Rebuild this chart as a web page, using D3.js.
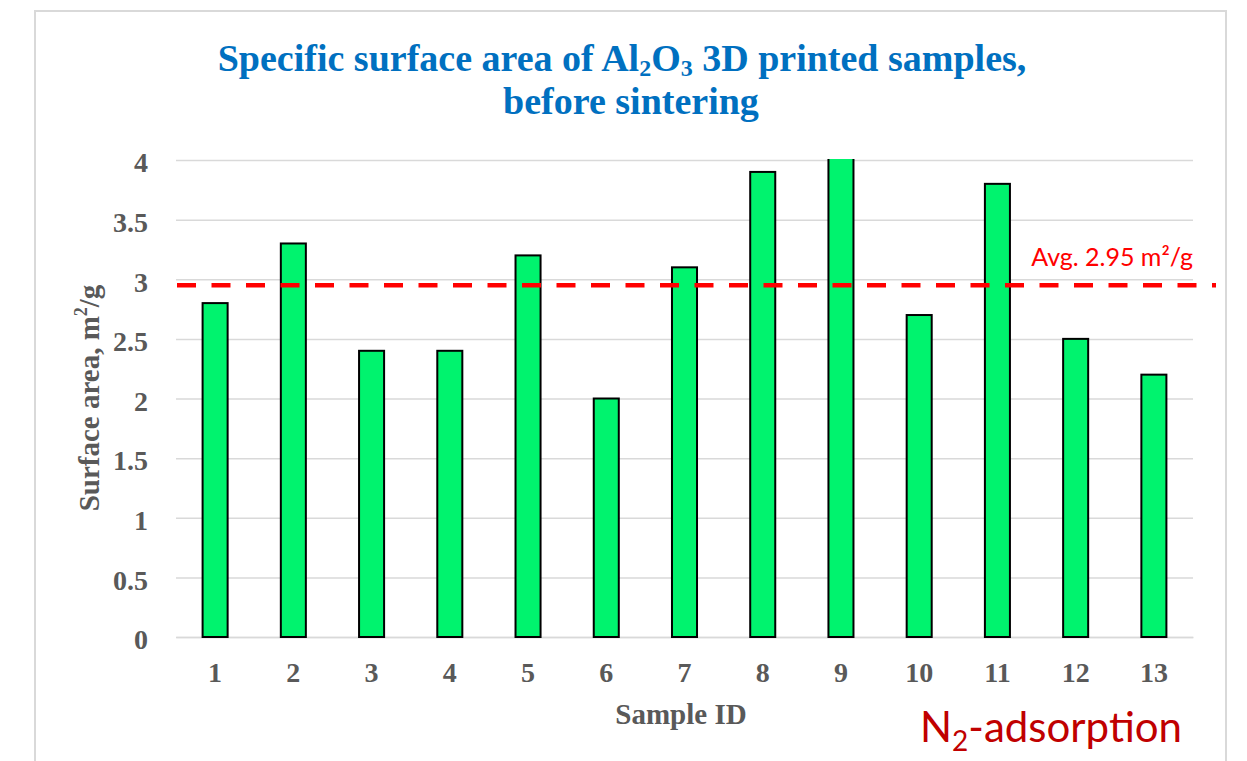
<!DOCTYPE html>
<html>
<head>
<meta charset="utf-8">
<script src="https://cdn.jsdelivr.net/npm/d3@7"></script>
<style>
  html, body { margin: 0; padding: 0; background: #fff; }
  svg { display: block; }
</style>
</head>
<body>
<svg id="chart" width="1247" height="761"></svg>
<script>
// Sample IDs and measured BET surface area (m²/g), before sintering
const samples = ["1", "2", "3", "4", "5", "6", "7", "8", "9", "10", "11", "12", "13"];
const surfaceArea = [2.8, 3.3, 2.4, 2.4, 3.2, 2.0, 3.1, 3.9, 4.05, 2.7, 3.8, 2.5, 2.2];
const averageArea = 2.95;
const yTicks = [0, 0.5, 1, 1.5, 2, 2.5, 3, 3.5, 4];

const plot = { left: 176, right: 1193, top: 160, bottom: 637 };

const svg = d3.select("#chart");
const serif = "'Liberation Serif', 'Times New Roman', serif";
const sans = "Lato, 'Noto Sans', sans-serif";
const grey = "#595959";

// chart frame
svg.append("rect")
  .attr("x", 35).attr("y", 11)
  .attr("width", 1191).attr("height", 780)
  .attr("fill", "#fff").attr("stroke", "#d9d9d9").attr("stroke-width", 2);

const x = d3.scaleBand()
  .domain(samples)
  .range([plot.left, plot.right])
  .paddingInner(0.68)
  .paddingOuter(0.34);

const y = d3.scaleLinear()
  .domain([0, 4])
  .range([plot.bottom, plot.top]);

// horizontal gridlines and value labels
const yAxis = d3.axisLeft(y)
  .tickValues(yTicks)
  .tickSize(-(plot.right - plot.left))
  .tickPadding(28)
  .tickFormat(d => d3.format("")(d));

const gy = svg.append("g")
  .attr("transform", `translate(${plot.left},0)`)
  .call(yAxis);
gy.select(".domain").remove();
gy.selectAll(".tick line").attr("stroke", "#d9d9d9").attr("stroke-width", 1.5);
gy.selectAll(".tick text")
  .attr("font-family", serif).attr("font-weight", "bold")
  .attr("font-size", 28).attr("fill", grey).attr("dy", "0.42em");

// category labels
const gx = svg.append("g")
  .attr("transform", `translate(0,${plot.bottom})`)
  .call(d3.axisBottom(x).tickSize(0).tickPadding(25));
gx.select(".domain").attr("stroke", "#d9d9d9").attr("stroke-width", 1.5);
gx.selectAll(".tick text")
  .attr("font-family", serif).attr("font-weight", "bold")
  .attr("font-size", 28).attr("fill", grey);

// bars, clipped at the top of the value axis
svg.append("clipPath").attr("id", "plotClip")
  .append("rect")
  .attr("x", plot.left - 5).attr("y", plot.top - 1)
  .attr("width", plot.right - plot.left + 10)
  .attr("height", plot.bottom - plot.top + 10);

svg.append("g")
  .attr("clip-path", "url(#plotClip)")
  .selectAll("rect")
  .data(samples.map((s, i) => ({ id: s, v: surfaceArea[i] })))
  .join("rect")
  .attr("x", d => x(d.id))
  .attr("y", d => y(d.v))
  .attr("width", x.bandwidth())
  .attr("height", d => y(0) - y(d.v))
  .attr("fill", "#00F36E")
  .attr("stroke", "#000")
  .attr("stroke-width", 2);

// average line
svg.append("line")
  .attr("x1", plot.left + 1).attr("x2", 1216)
  .attr("y1", y(averageArea)).attr("y2", y(averageArea))
  .attr("stroke", "#ff0000").attr("stroke-width", 4.5)
  .attr("stroke-dasharray", "19,15.5");

svg.append("text")
  .attr("x", plot.right).attr("y", 266)
  .attr("text-anchor", "end")
  .attr("font-family", sans).attr("font-size", 25)
  .attr("fill", "#ff0000")
  .text(`Avg. ${averageArea} m²/g`);

// title
const title = svg.append("text")
  .attr("font-family", serif).attr("font-weight", "bold")
  .attr("font-size", 38).attr("fill", "#0070C0")
  .attr("text-anchor", "middle");
const t1 = title.append("tspan").attr("x", 622).attr("y", 71);
t1.append("tspan").text("Specific surface area of Al");
t1.append("tspan").attr("font-size", 24).attr("dy", 5).text("2");
t1.append("tspan").attr("dy", -5).text("O");
t1.append("tspan").attr("font-size", 24).attr("dy", 5).text("3");
t1.append("tspan").attr("dy", -5).text(" 3D printed samples,");
title.append("tspan").attr("x", 631).attr("y", 114).text("before sintering");

// axis titles
const yTitle = svg.append("text")
  .attr("transform", `translate(99,398) rotate(-90)`)
  .attr("text-anchor", "middle")
  .attr("font-family", serif).attr("font-weight", "bold")
  .attr("font-size", 29).attr("fill", grey);
yTitle.append("tspan").text("Surface area, m");
yTitle.append("tspan").attr("font-size", 18).attr("dy", -12).text("2");
yTitle.append("tspan").attr("dy", 12).text("/g");

svg.append("text")
  .attr("x", 681).attr("y", 724)
  .attr("text-anchor", "middle")
  .attr("font-family", serif).attr("font-weight", "bold")
  .attr("font-size", 29).attr("fill", grey)
  .text("Sample ID");

// method annotation
const method = svg.append("text")
  .attr("x", 920).attr("y", 742)
  .attr("font-family", sans).attr("font-size", 42)
  .attr("fill", "#C00000");
method.append("tspan").text("N");
method.append("tspan").attr("font-size", 28).attr("dy", 9).text("2");
method.append("tspan").attr("dy", -9).text("-adsorption");
</script>
</body>
</html>
